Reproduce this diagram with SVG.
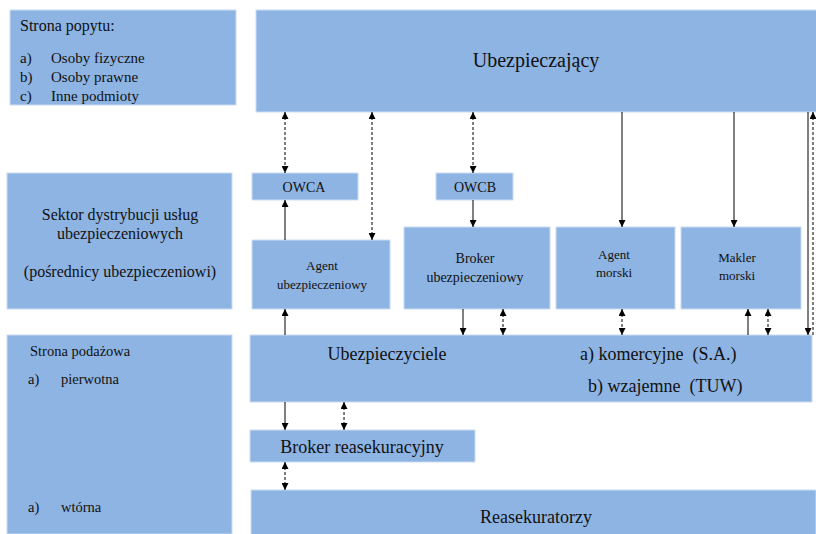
<svg xmlns="http://www.w3.org/2000/svg" width="816" height="534" viewBox="0 0 816 534">
  <style>
    .box { fill: #8eb4e3; stroke: #c9dcf2; stroke-width: 1; }
    .c { text-anchor: middle; }
    .solid { stroke: #000; stroke-width: 1; fill: none; }
    .dash { stroke: #000; stroke-width: 1; fill: none; stroke-dasharray: 3 2; }
  </style>
  <defs>
    <marker id="ah" viewBox="0 0 10 10" refX="10" refY="5" markerWidth="7" markerHeight="7" markerUnits="userSpaceOnUse" orient="auto-start-reverse">
      <path d="M0,0 L10,5 L0,10 z" fill="#000"/>
    </marker>
  </defs>
  <rect width="816" height="534" fill="#fff"/>

  <g id="strona-popytu" font-family="Liberation Serif" fill="#111">
    <rect class="box" x="10" y="10" width="226" height="95"/>
    <text x="20" y="31" font-size="16" font-family="Liberation Serif">Strona popytu:</text>
    <text x="20" y="63" font-size="15" font-family="Liberation Serif">a)</text><text x="51" y="63" font-size="15" font-family="Liberation Serif">Osoby fizyczne</text>
    <text x="20" y="82" font-size="15" font-family="Liberation Serif">b)</text><text x="51" y="82" font-size="15" font-family="Liberation Serif">Osoby prawne</text>
    <text x="20" y="101" font-size="15" font-family="Liberation Serif">c)</text><text x="51" y="101" font-size="15" font-family="Liberation Serif">Inne podmioty</text>
  </g>

  <g id="ubezpieczajacy" font-family="Liberation Serif" fill="#111">
    <rect class="box" x="256" y="10" width="562" height="102"/>
    <text class="c" x="536" y="67" font-size="20" font-family="Liberation Serif">Ubezpieczający</text>
  </g>

  <g id="owca" font-family="Liberation Serif" fill="#111">
    <rect class="box" x="252" y="173" width="106" height="27"/>
    <text class="c" x="304" y="192" font-size="14" font-family="Liberation Serif">OWCA</text>
  </g>

  <g id="owcb" font-family="Liberation Serif" fill="#111">
    <rect class="box" x="436" y="173" width="77" height="27"/>
    <text class="c" x="475" y="192" font-size="14" font-family="Liberation Serif">OWCB</text>
  </g>

  <g id="sektor" font-family="Liberation Serif" fill="#111">
    <rect class="box" x="7" y="173" width="225" height="136"/>
    <text class="c" x="120" y="220" font-size="16" font-family="Liberation Serif">Sektor dystrybucji usług</text>
    <text class="c" x="120" y="239" font-size="16" font-family="Liberation Serif">ubezpieczeniowych</text>
    <text class="c" x="120" y="277" font-size="16" font-family="Liberation Serif">(pośrednicy ubezpieczeniowi)</text>
  </g>

  <g id="agent-ubezpieczeniowy" font-family="Liberation Serif" fill="#111">
    <rect class="box" x="252" y="240" width="138" height="69"/>
    <text class="c" x="322" y="270" font-size="13" font-family="Liberation Serif">Agent</text>
    <text class="c" x="322" y="289" font-size="13" font-family="Liberation Serif">ubezpieczeniowy</text>
  </g>

  <g id="broker-ubezpieczeniowy" font-family="Liberation Serif" fill="#111">
    <rect class="box" x="404" y="227" width="146" height="82"/>
    <text class="c" x="475" y="263" font-size="14" font-family="Liberation Serif">Broker</text>
    <text class="c" x="475" y="282" font-size="14" font-family="Liberation Serif">ubezpieczeniowy</text>
  </g>

  <g id="agent-morski" font-family="Liberation Serif" fill="#111">
    <rect class="box" x="556" y="227" width="119" height="82"/>
    <text class="c" x="614" y="259" font-size="13" font-family="Liberation Serif">Agent</text>
    <text class="c" x="614" y="277" font-size="13" font-family="Liberation Serif">morski</text>
  </g>

  <g id="makler-morski" font-family="Liberation Serif" fill="#111">
    <rect class="box" x="681" y="227" width="120" height="82"/>
    <text class="c" x="737" y="262" font-size="13" font-family="Liberation Serif">Makler</text>
    <text class="c" x="737" y="280" font-size="13" font-family="Liberation Serif">morski</text>
  </g>

  <g id="strona-podazowa" font-family="Liberation Serif" fill="#111">
    <rect class="box" x="7" y="335" width="225" height="199"/>
    <text x="30" y="356" font-size="14.5" font-family="Liberation Serif">Strona podażowa</text>
    <text x="28" y="384" font-size="14.5" font-family="Liberation Serif">a)</text><text x="61" y="384" font-size="14.5" font-family="Liberation Serif">pierwotna</text>
    <text x="28" y="512" font-size="14.5" font-family="Liberation Serif">a)</text><text x="61" y="512" font-size="14.5" font-family="Liberation Serif">wtórna</text>
  </g>

  <g id="ubezpieczyciele" font-family="Liberation Serif" fill="#111">
    <rect class="box" x="250" y="335" width="562" height="67"/>
    <text class="c" x="387" y="360" font-size="18" font-family="Liberation Serif">Ubezpieczyciele</text>
    <text x="580" y="360" font-size="18" font-family="Liberation Serif" xml:space="preserve">a) komercyjne  (S.A.)</text>
    <text x="588" y="392" font-size="18" font-family="Liberation Serif" xml:space="preserve">b) wzajemne  (TUW)</text>
  </g>

  <g id="broker-reasekuracyjny" font-family="Liberation Serif" fill="#111">
    <rect class="box" x="250" y="430" width="225" height="32"/>
    <text class="c" x="362" y="453" font-size="18" font-family="Liberation Serif">Broker reasekuracyjny</text>
  </g>

  <g id="reasekuratorzy" font-family="Liberation Serif" fill="#111">
    <rect class="box" x="251" y="490" width="565" height="46"/>
    <text class="c" x="536" y="523" font-size="18" font-family="Liberation Serif">Reasekuratorzy</text>
  </g>

  <g id="connectors">
    <!-- Ubezpieczający / OWCA / Agent -->
    <line class="dash" x1="285" y1="112" x2="285" y2="173" marker-start="url(#ah)" marker-end="url(#ah)"/>
    <line class="solid" x1="285" y1="240" x2="285" y2="200" marker-end="url(#ah)"/>
    <line class="dash" x1="372" y1="112" x2="372" y2="240" marker-start="url(#ah)" marker-end="url(#ah)"/>
    <!-- OWCB / Broker -->
    <line class="dash" x1="473" y1="112" x2="473" y2="173" marker-start="url(#ah)" marker-end="url(#ah)"/>
    <line class="solid" x1="473" y1="200" x2="473" y2="227" marker-end="url(#ah)"/>
    <!-- maritime intermediaries -->
    <line class="solid" x1="622" y1="112" x2="622" y2="227" marker-end="url(#ah)"/>
    <line class="solid" x1="734" y1="112" x2="734" y2="227" marker-end="url(#ah)"/>
    <!-- direct link along the right edge -->
    <line class="solid" x1="808" y1="112" x2="808" y2="335" marker-end="url(#ah)"/>
    <line class="dash" x1="813" y1="335" x2="813" y2="112" marker-end="url(#ah)"/>
    <!-- intermediaries / Ubezpieczyciele -->
    <line class="solid" x1="285" y1="335" x2="285" y2="309" marker-end="url(#ah)"/>
    <line class="solid" x1="463" y1="309" x2="463" y2="335" marker-end="url(#ah)"/>
    <line class="dash" x1="503" y1="309" x2="503" y2="335" marker-start="url(#ah)" marker-end="url(#ah)"/>
    <line class="dash" x1="622" y1="309" x2="622" y2="335" marker-start="url(#ah)" marker-end="url(#ah)"/>
    <line class="solid" x1="748" y1="335" x2="748" y2="309" marker-end="url(#ah)"/>
    <line class="dash" x1="768" y1="309" x2="768" y2="335" marker-start="url(#ah)" marker-end="url(#ah)"/>
    <!-- reinsurance -->
    <line class="solid" x1="285" y1="402" x2="285" y2="430" marker-end="url(#ah)"/>
    <line class="dash" x1="344" y1="402" x2="344" y2="430" marker-start="url(#ah)" marker-end="url(#ah)"/>
    <line class="dash" x1="285" y1="462" x2="285" y2="490" marker-start="url(#ah)" marker-end="url(#ah)"/>
  </g>
</svg>
